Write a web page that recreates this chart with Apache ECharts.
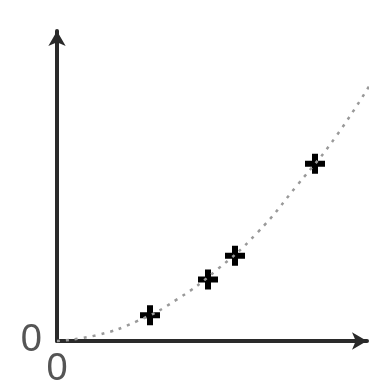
<!DOCTYPE html>
<html>
<head>
<meta charset="utf-8">
<script src="https://cdn.jsdelivr.net/npm/echarts@6/dist/echarts.min.js"></script>
<style>
  html, body { margin: 0; padding: 0; background: #fff; }
  #main { width: 385px; height: 389px; }
</style>
</head>
<body>
<div id="main"></div>
<script>
var pointsX = [93, 151, 178, 258];
var pointsY = [26, 62, 86, 179];
// dotted trend curve
var curveX = [0, 40, 80, 120, 160, 200, 240, 280, 321];
var curveY = [0, 6, 20, 42, 72, 109, 157, 208, 272];
var xMax = 310, yMax = 313;

var myChart = echarts.init(document.getElementById('main'));

var plus = 'path://M7,0h6v7h7v6h-7v7h-6v-7h-7v-6h7z';

var axisCommon = {
  type: 'value',
  min: 0,
  splitLine: { show: false },
  axisTick: { show: false },
  axisLine: {
    show: true,
    symbol: ['none', 'arrow'],
    symbolSize: [13, 15],
    lineStyle: { color: '#2a2a2a', width: 4 }
  }
};

myChart.setOption({
  animation: false,
  grid: { left: 57, top: 31, right: 18, bottom: 45, containLabel: false },
  xAxis: Object.assign({}, axisCommon, {
    max: xMax,
    interval: xMax,
    axisLabel: {
      margin: 10,
      fontSize: 38,
      fontFamily: 'Liberation Sans Narrow, Liberation Sans',
      color: '#555',
      formatter: function (v) { return v === 0 ? '0' : ''; }
    }
  }),
  yAxis: Object.assign({}, axisCommon, {
    max: yMax,
    interval: yMax,
    axisLabel: {
      margin: 15,
      fontSize: 38,
      fontFamily: 'Liberation Sans Narrow, Liberation Sans',
      color: '#555',
      verticalAlign: 'middle',
      formatter: function (v) { return v === 0 ? '0' : ''; }
    }
  }),
  series: [
    {
      type: 'line',
      smooth: true,
      clip: false,
      showSymbol: false,
      data: curveX.map(function (x, i) { return [x, curveY[i]]; }),
      lineStyle: { color: '#999', width: 2.5, type: [3, 6] }
    },
    {
      type: 'scatter',
      symbol: plus,
      symbolSize: 20,
      itemStyle: { color: '#000', opacity: 1 },
      data: pointsX.map(function (x, i) { return [x, pointsY[i]]; })
    }
  ]
});
</script>
</body>
</html>
